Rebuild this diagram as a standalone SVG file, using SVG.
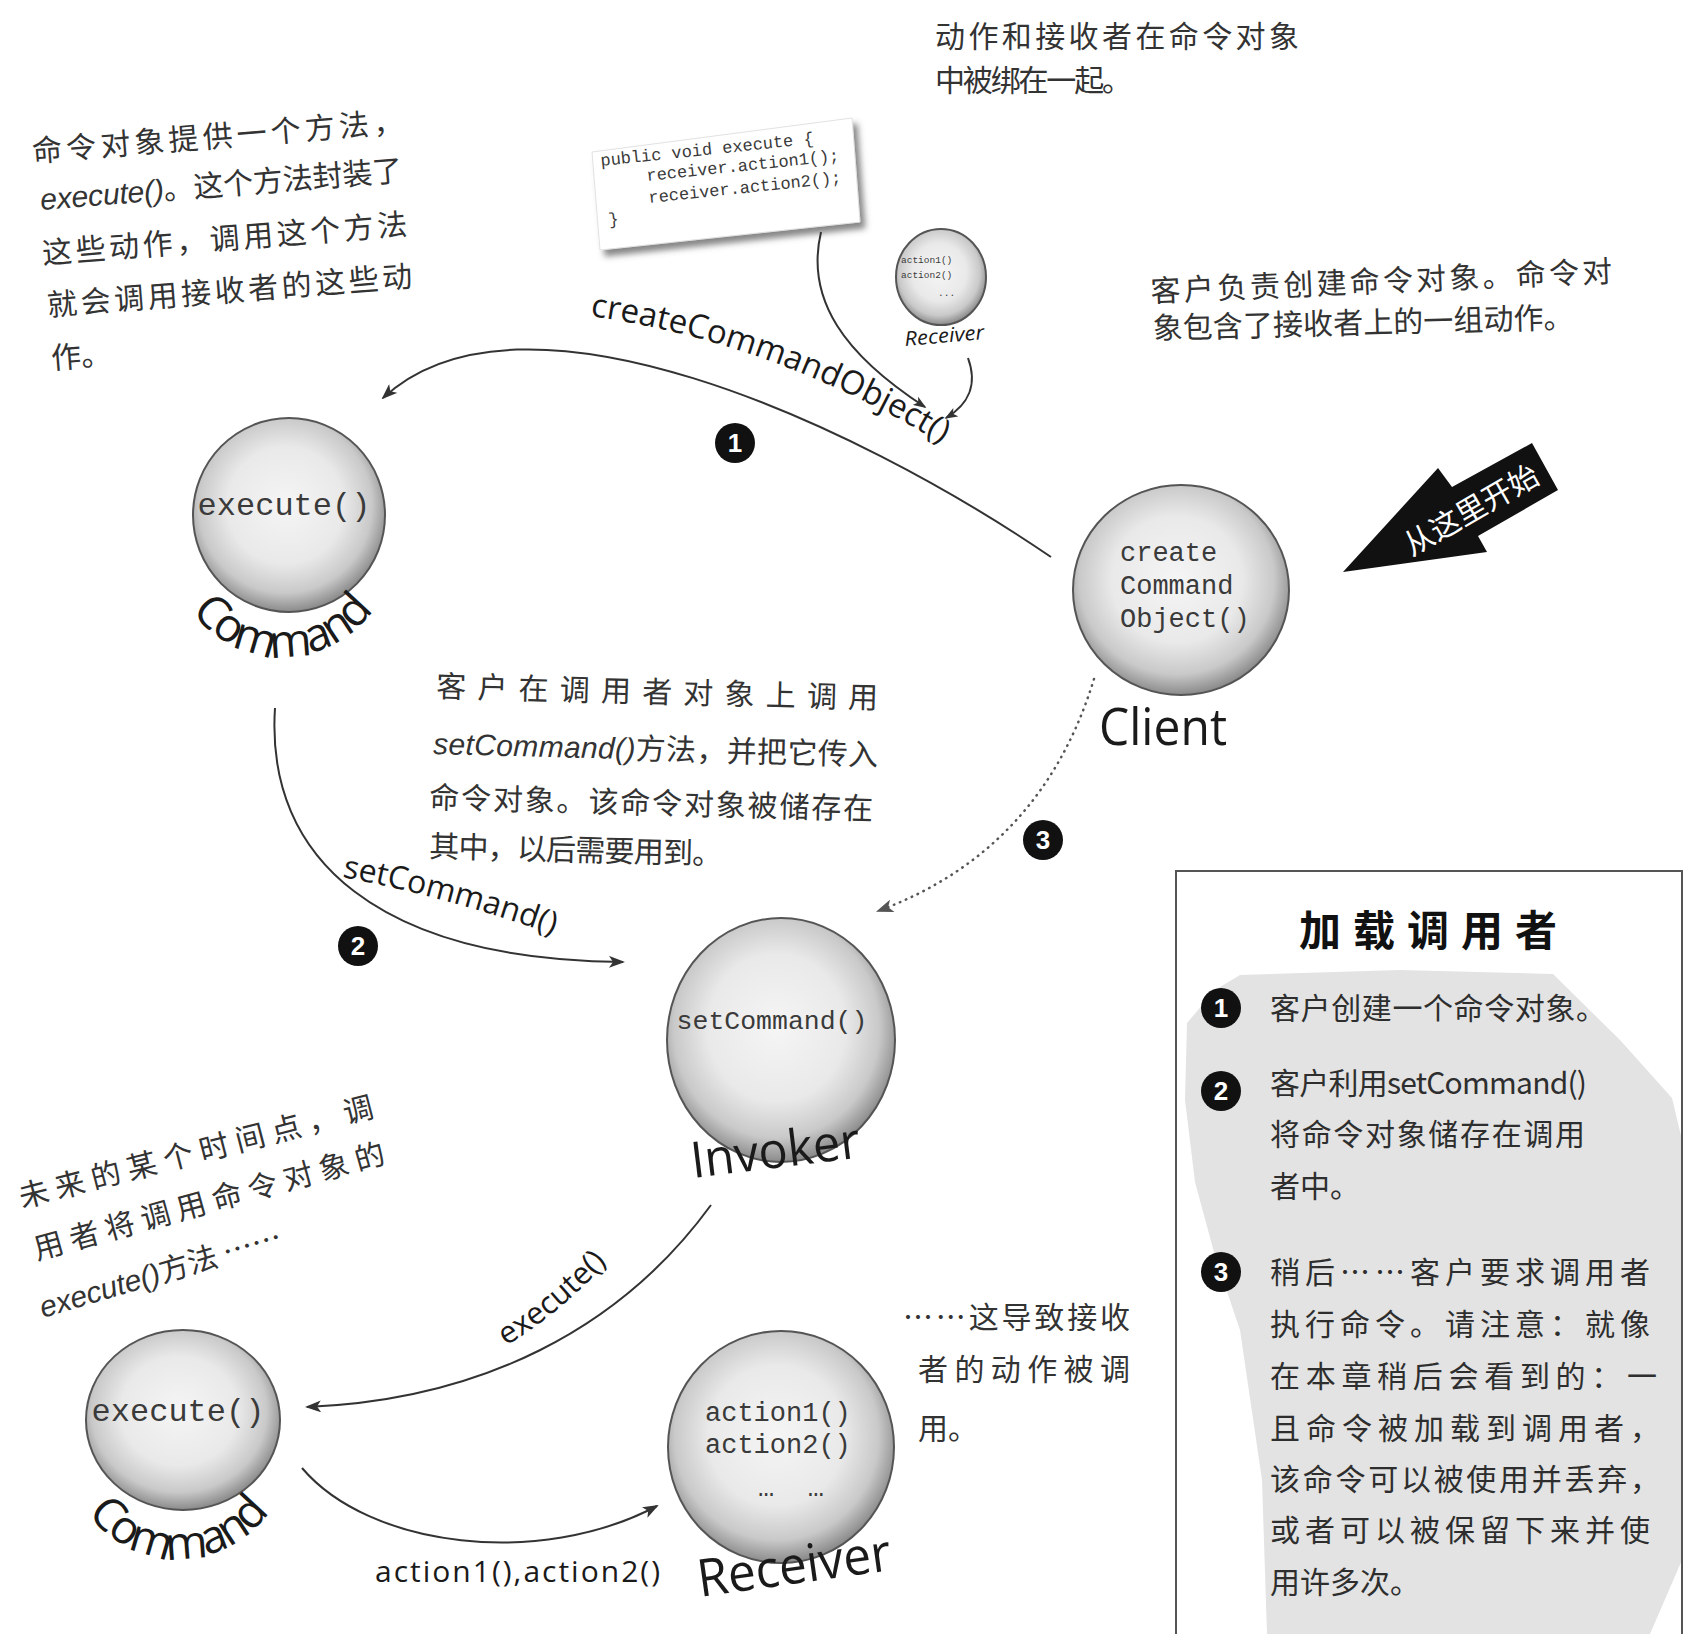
<svg xmlns="http://www.w3.org/2000/svg" width="1690" height="1634" viewBox="0 0 1690 1634">
<style>
.cjk{font-family:"Noto Sans CJK SC","Noto Sans",sans-serif;fill:#2b2b2b;font-size:30px}
.hand{font-family:"Noto Sans CJK SC","Noto Sans",sans-serif;fill:#333;font-size:30px}
.it{font-family:"Liberation Sans",sans-serif;font-style:italic}
.mono{font-family:"Liberation Mono","DejaVu Sans Mono",monospace;fill:#3a3a3a}
.lbl{font-family:"Open Sans","Liberation Sans",sans-serif;fill:#1a1a1a}
.conn{fill:none;stroke:#333;stroke-width:2}
.dot{fill:none;stroke:#555;stroke-width:2.5;stroke-dasharray:0.5 6;stroke-linecap:round}
.sph{fill:url(#sph);stroke:#555;stroke-width:2}
.badge circle{fill:#111}
.badge text{font-family:"Liberation Sans",sans-serif;font-weight:bold;fill:#fff;font-size:26px;text-anchor:middle}
.box{font-family:"Noto Sans CJK SC","Noto Sans",sans-serif;fill:#2e2e2e;font-size:30px}
</style>
<defs>
<radialGradient id="sph" cx="48%" cy="45%" r="55%">
<stop offset="0" stop-color="#f5f5f5"/>
<stop offset="0.55" stop-color="#e9e9e9"/>
<stop offset="0.82" stop-color="#c9c9c9"/>
<stop offset="1" stop-color="#8a8a8a"/>
</radialGradient>
<marker id="ah" viewBox="0 0 16 12" refX="14" refY="6" markerWidth="16" markerHeight="12" markerUnits="userSpaceOnUse" orient="auto">
<path d="M0,0 L16,6 L0,12 L4,6 z" fill="#333"/>
</marker>
<marker id="ahs" viewBox="0 0 16 12" refX="14" refY="6" markerWidth="13" markerHeight="10" markerUnits="userSpaceOnUse" orient="auto">
<path d="M0,0 L16,6 L0,12 L4,6 z" fill="#333"/>
</marker>
<marker id="ahd" viewBox="0 0 16 12" refX="14" refY="6" markerWidth="18" markerHeight="13" markerUnits="userSpaceOnUse" orient="auto">
<path d="M0,0 L16,6 L0,12 L4,6 z" fill="#555"/>
</marker>
<filter id="shadow" x="-10%" y="-10%" width="130%" height="140%">
<feDropShadow dx="5" dy="6" stdDeviation="3" flood-color="#555" flood-opacity="0.7"/>
</filter>
<path id="tpCreate" d="M590,316 Q780,343 952,450"/>
<path id="tpSet" d="M342,877 Q457,899 570,941"/>
<path id="tpExec" d="M506,1346 Q572,1306 628,1238"/>
<path id="tpCmdTop" d="M170,545 A112,112 0 0 0 394,545"/>
<path id="tpCmdBot" d="M66,1447 A112,112 0 0 0 290,1447"/>
</defs>

<!-- Notes -->
<g id="note-top-left" class="hand">
<text transform="translate(33,162) rotate(-4.6)" textLength="372">命令对象提供一个方法，</text>
<text transform="translate(41,210) rotate(-4.6)" textLength="363"><tspan class="it">execute()</tspan>。这个方法封装了</text>
<text transform="translate(43,264) rotate(-4.6)" textLength="366">这些动作，调用这个方法</text>
<text transform="translate(48,316) rotate(-4.6)" textLength="366">就会调用接收者的这些动</text>
<text transform="translate(52,369) rotate(-4.6)">作。</text>
</g>
<g id="note-top-center" class="hand">
<text x="935" y="47" textLength="364">动作和接收者在命令对象</text>
<text x="935" y="91" textLength="197">中被绑在一起。</text>
</g>
<g id="note-top-right" class="hand">
<text transform="translate(1151,302) rotate(-2.5)" textLength="462">客户负责创建命令对象。命令对</text>
<text transform="translate(1153,339) rotate(-1.5)" textLength="421">象包含了接收者上的一组动作。</text>
</g>
<g id="note-middle" class="hand">
<text transform="translate(436,697) rotate(1.5)" textLength="442">客户在调用者对象上调用</text>
<text transform="translate(433,754) rotate(1.5)" textLength="445"><tspan class="it">setCommand()</tspan>方法，并把它传入</text>
<text transform="translate(429,808) rotate(1.5)" textLength="444">命令对象。该命令对象被储存在</text>
<text transform="translate(429,857) rotate(1.5)" textLength="293">其中，以后需要用到。</text>
</g>
<g id="note-bottom-left" class="hand">
<text transform="translate(22,1208) rotate(-14.5)" textLength="365">未来的某个时间点，调</text>
<text transform="translate(37,1260) rotate(-15.5)" textLength="363">用者将调用命令对象的</text>
<text transform="translate(43,1318) rotate(-16.5)" textLength="251"><tspan class="it">execute()</tspan>方法 ……</text>
</g>
<g id="note-bottom-right" class="hand">
<text x="903" y="1328" textLength="227">……这导致接收</text>
<text x="918" y="1380" textLength="212">者的动作被调</text>
<text x="918" y="1439">用。</text>
</g>

<!-- Start here arrow -->
<g id="start-arrow">
<polygon points="1343,572 1438,468 1452,487 1532,443 1558,490 1478,536 1487,552" fill="#111"/>
<text transform="translate(1470,508) rotate(-30)" text-anchor="middle" dominant-baseline="central" font-family="Noto Sans CJK SC, sans-serif" font-size="30" fill="#fff">从这里开始</text>
</g>

<!-- Code card -->
<g id="code-card">
<polygon points="592,152 852,118 860,222 600,250" fill="#fff" stroke="#e2e2e2" stroke-width="1" filter="url(#shadow)"/>
<g class="mono" font-size="17" fill="#555">
<text transform="translate(601,166) rotate(-6)">public void execute {</text>
<text transform="translate(647,181) rotate(-6)">receiver.action1();</text>
<text transform="translate(649,203) rotate(-6)">receiver.action2();</text>
<text transform="translate(609,225) rotate(-6)">}</text>
</g>
</g>

<!-- Connectors -->
<g id="connectors">
<path class="conn" d="M1051,557 C850,420 520,270 383,398" marker-end="url(#ah)"/>
<path class="conn" d="M821,232 C805,300 845,355 925,407" marker-end="url(#ahs)"/>
<path class="conn" d="M968,358 C978,385 968,405 946,418" marker-end="url(#ahs)"/>
<path class="conn" d="M275,708 C265,860 380,960 623,962" marker-end="url(#ah)"/>
<path class="dot" d="M1094,679 C1060,790 990,870 878,911" marker-end="url(#ahd)"/>
<path class="conn" d="M711,1205 C620,1330 480,1400 307,1407" marker-end="url(#ah)"/>
<path class="conn" d="M302,1468 C370,1548 540,1568 657,1506" marker-end="url(#ah)"/>
<g class="lbl" font-size="33">
<text><textPath href="#tpCreate">createCommandObject()</textPath></text>
<text font-size="32"><textPath href="#tpSet">setCommand()</textPath></text>
<text font-size="31"><textPath href="#tpExec">execute()</textPath></text>
<text x="375" y="1582" font-size="30" textLength="285">action1(),action2()</text>
</g>
<g class="badge"><circle cx="735" cy="443" r="20"/><text x="735" y="452">1</text></g>
<g class="badge"><circle cx="358" cy="946" r="20"/><text x="358" y="955">2</text></g>
<g class="badge"><circle cx="1043" cy="840" r="20"/><text x="1043" y="849">3</text></g>
</g>

<!-- Nodes -->
<g id="node-command-top">
<ellipse class="sph" cx="289" cy="515" rx="96" ry="97"/>
<text class="mono" x="284" y="515" font-size="32" text-anchor="middle">execute()</text>
<text class="lbl" font-size="46" letter-spacing="-2"><textPath href="#tpCmdTop" startOffset="50%" text-anchor="middle">Command</textPath></text>
</g>
<g id="node-client">
<ellipse class="sph" cx="1181" cy="590" rx="108" ry="105"/>
<g class="mono" font-size="27">
<text x="1120" y="561">create</text>
<text x="1120" y="594">Command</text>
<text x="1120" y="627">Object()</text>
</g>
<text class="lbl" x="1099" y="745" font-size="52" textLength="128" lengthAdjust="spacingAndGlyphs">Client</text>
</g>
<g id="node-invoker">
<ellipse class="sph" cx="781" cy="1040" rx="114" ry="122"/>
<text class="mono" x="772" y="1029" font-size="26.5" text-anchor="middle">setCommand()</text>
<text class="lbl" transform="translate(693,1178) rotate(-7)" font-size="50" textLength="170" lengthAdjust="spacingAndGlyphs">Invoker</text>
</g>
<g id="node-command-bottom">
<ellipse class="sph" cx="183" cy="1420" rx="97" ry="90"/>
<text class="mono" x="178" y="1421" font-size="32" text-anchor="middle">execute()</text>
<text class="lbl" font-size="46" letter-spacing="-2"><textPath href="#tpCmdBot" startOffset="50%" text-anchor="middle">Command</textPath></text>
</g>
<g id="node-receiver">
<ellipse class="sph" cx="781" cy="1447" rx="113" ry="116"/>
<g class="mono" font-size="27">
<text x="705" y="1421">action1()</text>
<text x="705" y="1453">action2()</text>
<text x="758" y="1496" textLength="66">……</text>
</g>
<text class="lbl" transform="translate(700,1597) rotate(-8)" font-size="52" textLength="195" lengthAdjust="spacingAndGlyphs">Receiver</text>
</g>
<g id="node-receiver-small">
<ellipse class="sph" cx="941" cy="277" rx="45" ry="48" stroke-width="1.5"/>
<g class="mono" font-size="9.5">
<text x="901" y="263">action1()</text>
<text x="901" y="278">action2()</text>
<text x="938" y="296">...</text>
</g>
<text class="lbl" transform="translate(905,346) rotate(-5)" font-size="20" font-style="italic" textLength="80" lengthAdjust="spacingAndGlyphs">Receiver</text>
</g>

<!-- Sidebar box -->
<g id="box-load-invoker">
<polygon points="1187,1023 1215,990 1240,975 1400,970 1553,974 1620,1040 1672,1098 1682,1140 1682,1560 1650,1634 1267,1634 1262,1480 1240,1330 1215,1256 1195,1182 1185,1100" fill="#e3e3e3"/>
<rect x="1176" y="871" width="506" height="775" fill="none" stroke="#555" stroke-width="2"/>
<text x="1299" y="946" font-family="Noto Sans CJK SC, sans-serif" font-weight="bold" font-size="42" fill="#111" textLength="258">加载调用者</text>
<g class="badge"><circle cx="1221" cy="1008" r="20"/><text x="1221" y="1017">1</text></g>
<g class="badge"><circle cx="1221" cy="1091" r="20"/><text x="1221" y="1100">2</text></g>
<g class="badge"><circle cx="1221" cy="1272" r="20"/><text x="1221" y="1281">3</text></g>
<g class="box">
<text x="1270" y="1019" textLength="336">客户创建一个命令对象。</text>
<text x="1270" y="1094" textLength="317">客户利用setCommand()</text>
<text x="1270" y="1145" textLength="315">将命令对象储存在调用</text>
<text x="1270" y="1197">者中。</text>
<text x="1270" y="1283" textLength="380">稍后……客户要求调用者</text>
<text x="1270" y="1335" textLength="380">执行命令。请注意：就像</text>
<text x="1270" y="1387" textLength="387">在本章稍后会看到的：一</text>
<text x="1270" y="1439" textLength="390">且命令被加载到调用者，</text>
<text x="1270" y="1490" textLength="390">该命令可以被使用并丢弃，</text>
<text x="1270" y="1541" textLength="380">或者可以被保留下来并使</text>
<text x="1270" y="1593">用许多次。</text>
</g>
</g>
</svg>
